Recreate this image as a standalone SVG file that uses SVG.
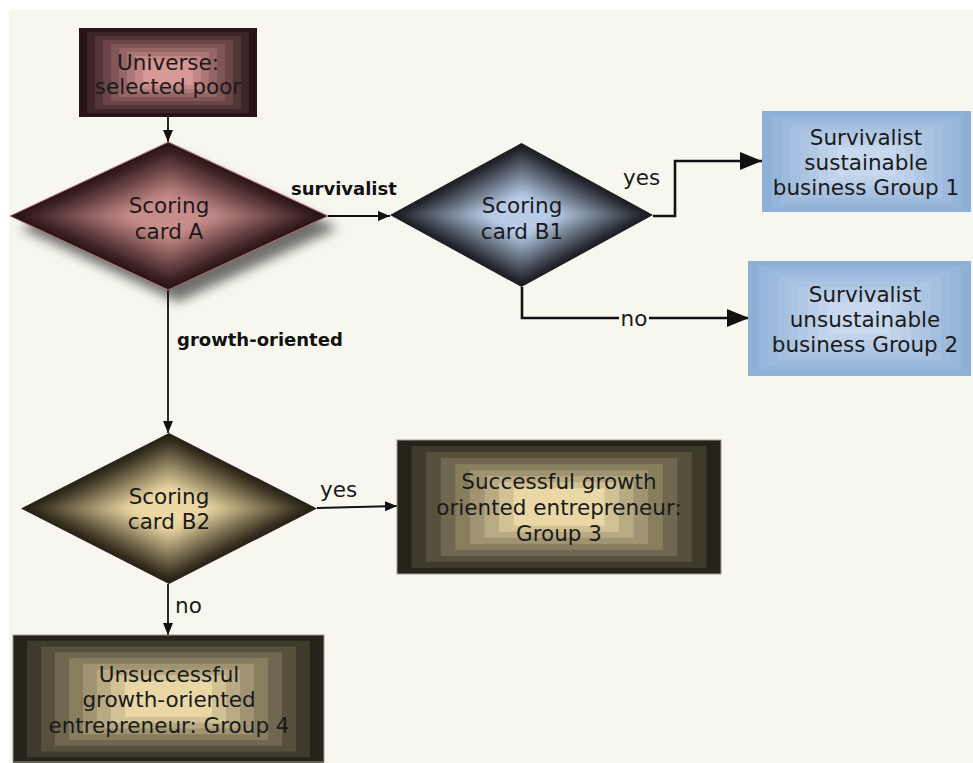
<svg xmlns="http://www.w3.org/2000/svg" width="973" height="763" viewBox="0 0 973 763">
<style>
.t{font-family:"DejaVu Sans","Verdana",sans-serif;font-size:21.5px;fill:#1a1a1a;text-anchor:middle}
.lb{font-family:"DejaVu Sans","Verdana",sans-serif;font-size:18px;font-weight:bold;fill:#111}
.lr{font-family:"DejaVu Sans","Verdana",sans-serif;font-size:21.5px;fill:#1a1a1a}
.c{fill:none;stroke:#111;stroke-width:1.8}
.cb{fill:none;stroke:#111;stroke-width:2.6}
</style>
<defs>
<marker id="as" markerUnits="userSpaceOnUse" markerWidth="13" markerHeight="11" refX="12" refY="5" orient="auto"><path d="M0,0 L12,5 L0,10 z" fill="#111"/></marker>
<marker id="al" markerUnits="userSpaceOnUse" markerWidth="23" markerHeight="19" refX="22" refY="9" orient="auto"><path d="M0,0 L22,9 L0,18 z" fill="#111"/></marker>
<filter id="sh" x="-20%" y="-20%" width="150%" height="150%"><feGaussianBlur stdDeviation="6"/></filter>
<filter id="sm" x="-10%" y="-10%" width="120%" height="120%"><feGaussianBlur stdDeviation="2"/></filter>
<clipPath id="dclip" clipPathUnits="userSpaceOnUse"><polygon points="50,0 100,50 50,100 0,50"/></clipPath>
<symbol id="dia-pink" viewBox="0 0 100 100" preserveAspectRatio="none">
<g clip-path="url(#dclip)"><g filter="url(#sm)">
<polygon points="50,-10 110,50 50,110 -10,50" fill="#2a1416"/>
<polygon points="50,4.25 95.75,50 50,95.75 4.25,50" fill="#3e2325"/>
<polygon points="50,8.5 91.5,50 50,91.5 8.5,50" fill="#523233"/>
<polygon points="50,12.75 87.25,50 50,87.25 12.75,50" fill="#654142"/>
<polygon points="50,17 83,50 50,83 17,50" fill="#795050"/>
<polygon points="50,21.25 78.75,50 50,78.75 21.25,50" fill="#8d5f5f"/>
<polygon points="50,25.5 74.5,50 50,74.5 25.5,50" fill="#a16e6d"/>
<polygon points="50,29.75 70.25,50 50,70.25 29.75,50" fill="#b47d7c"/>
<polygon points="50,34 66,50 50,66 34,50" fill="#c88c8a"/>
</g></g>
</symbol>
<symbol id="dia-blue" viewBox="0 0 100 100" preserveAspectRatio="none">
<g clip-path="url(#dclip)"><g filter="url(#sm)">
<polygon points="50,-10 110,50 50,110 -10,50" fill="#1c1f24"/>
<polygon points="50,4.25 95.75,50 50,95.75 4.25,50" fill="#30353d"/>
<polygon points="50,8.5 91.5,50 50,91.5 8.5,50" fill="#434a55"/>
<polygon points="50,12.75 87.25,50 50,87.25 12.75,50" fill="#57606e"/>
<polygon points="50,17 83,50 50,83 17,50" fill="#6a7686"/>
<polygon points="50,21.25 78.75,50 50,78.75 21.25,50" fill="#7e8b9f"/>
<polygon points="50,25.5 74.5,50 50,74.5 25.5,50" fill="#91a1b7"/>
<polygon points="50,29.75 70.25,50 50,70.25 29.75,50" fill="#a5b6d0"/>
<polygon points="50,34 66,50 50,66 34,50" fill="#b8cce8"/>
</g></g>
</symbol>
<symbol id="dia-tan" viewBox="0 0 100 100" preserveAspectRatio="none">
<g clip-path="url(#dclip)"><g filter="url(#sm)">
<polygon points="50,-10 110,50 50,110 -10,50" fill="#282214"/>
<polygon points="50,4.25 95.75,50 50,95.75 4.25,50" fill="#413926"/>
<polygon points="50,8.5 91.5,50 50,91.5 8.5,50" fill="#594f38"/>
<polygon points="50,12.75 87.25,50 50,87.25 12.75,50" fill="#72664a"/>
<polygon points="50,17 83,50 50,83 17,50" fill="#8a7d5c"/>
<polygon points="50,21.25 78.75,50 50,78.75 21.25,50" fill="#a3946e"/>
<polygon points="50,25.5 74.5,50 50,74.5 25.5,50" fill="#bbab80"/>
<polygon points="50,29.75 70.25,50 50,70.25 29.75,50" fill="#d4c192"/>
<polygon points="50,34 66,50 50,66 34,50" fill="#ecd8a4"/>
</g></g>
</symbol>
<symbol id="rect-pink" viewBox="0 0 100 100" preserveAspectRatio="none">
<rect x="0" y="0" width="100" height="100" fill="#281416"/>
<rect x="4.5" y="4.5" width="91" height="91" fill="#3e2526"/>
<rect x="9" y="9" width="82" height="82" fill="#543536"/>
<rect x="13.5" y="13.5" width="73" height="73" fill="#6a4646"/>
<rect x="18" y="18" width="64" height="64" fill="#805656"/>
<rect x="22.5" y="22.5" width="55" height="55" fill="#966666"/>
<rect x="27" y="27" width="46" height="46" fill="#ac7776"/>
<rect x="31.5" y="31.5" width="37" height="37" fill="#c28786"/>
<rect x="36" y="36" width="28" height="28" fill="#d89896"/>
</symbol>
<symbol id="rect-tan" viewBox="0 0 100 100" preserveAspectRatio="none">
<rect x="0" y="0" width="100" height="100" fill="#25231a"/>
<rect x="4.5" y="4.5" width="91" height="91" fill="#3e3a2c"/>
<rect x="9" y="9" width="82" height="82" fill="#56503d"/>
<rect x="13.5" y="13.5" width="73" height="73" fill="#6f674f"/>
<rect x="18" y="18" width="64" height="64" fill="#877e60"/>
<rect x="22.5" y="22.5" width="55" height="55" fill="#a09472"/>
<rect x="27" y="27" width="46" height="46" fill="#b8ab83"/>
<rect x="31.5" y="31.5" width="37" height="37" fill="#d1c195"/>
<rect x="36" y="36" width="28" height="28" fill="#e9d8a6"/>
</symbol>
<symbol id="rect-blue" viewBox="0 0 100 100" preserveAspectRatio="none">
<rect x="0" y="0" width="100" height="100" fill="#8eb0d6"/>
<rect x="4.5" y="4.5" width="91" height="91" fill="#95b5d9"/>
<rect x="9" y="9" width="82" height="82" fill="#9dbadc"/>
<rect x="13.5" y="13.5" width="73" height="73" fill="#a4bfdf"/>
<rect x="18" y="18" width="64" height="64" fill="#abc4e2"/>
<rect x="22.5" y="22.5" width="55" height="55" fill="#b2c9e5"/>
<rect x="27" y="27" width="46" height="46" fill="#bacee8"/>
<rect x="31.5" y="31.5" width="37" height="37" fill="#c1d3eb"/>
<rect x="36" y="36" width="28" height="28" fill="#c8d8ee"/>
</symbol>
</defs>
<rect x="0" y="0" width="973" height="763" fill="#ffffff"/>
<rect x="9" y="10" width="964" height="753" fill="#f8f7ef"/>

<g id="connectors">
<path class="c" d="M168,117 L168,142" marker-end="url(#as)"/>
<path class="c" d="M328,216 L390,216" marker-end="url(#as)"/>
<path class="c" d="M168,290 L168,433" marker-end="url(#as)"/>
<path class="cb" d="M653,216 L675,216 L675,161 L762,161" marker-end="url(#al)"/>
<path class="cb" d="M522,287 L522,318 L749,318" marker-end="url(#al)"/>
<path class="c" d="M317,508 L397,506" marker-end="url(#as)"/>
<path class="c" d="M168,584 L168,635" marker-end="url(#as)"/>
<text class="lb" x="291" y="195">survivalist</text>
<text class="lb" x="177" y="346">growth-oriented</text>
<text class="lr" x="623" y="185">yes</text>
<rect x="619" y="306" width="30" height="24" fill="#f8f7ef"/>
<text class="lr" x="634" y="326" text-anchor="middle">no</text>
<text class="lr" x="320" y="497">yes</text>
<text class="lr" x="175" y="613">no</text>
</g>

<g id="node-universe">
<use href="#rect-pink" x="79" y="28" width="178" height="89"/>
<text class="t" x="168" y="70">Universe:</text>
<text class="t" x="168" y="94">selected poor</text>
</g>

<g id="node-scoring-a">
<polygon points="178,154 338,228 178,302 20,228" fill="#000" opacity="0.55" filter="url(#sh)"/>
<use href="#dia-pink" x="10" y="142" width="318" height="148"/>
<polygon points="168,142 328,216 168,290 10,216" fill="none" stroke="#b07676" stroke-width="1"/>
<text class="t" x="169" y="213">Scoring</text>
<text class="t" x="169" y="239">card A</text>
</g>

<g id="node-scoring-b1">
<use href="#dia-blue" x="390" y="143" width="263" height="144"/>
<text class="t" x="522" y="213">Scoring</text>
<text class="t" x="522" y="239">card B1</text>
</g>

<g id="node-group1">
<use href="#rect-blue" x="762" y="111" width="209" height="101"/>
<text class="t" x="866" y="145">Survivalist</text>
<text class="t" x="866" y="170">sustainable</text>
<text class="t" x="866" y="195">business Group 1</text>
</g>

<g id="node-group2">
<use href="#rect-blue" x="748" y="261" width="223" height="115"/>
<text class="t" x="865" y="302">Survivalist</text>
<text class="t" x="865" y="327">unsustainable</text>
<text class="t" x="865" y="352">business Group 2</text>
</g>

<g id="node-scoring-b2">
<use href="#dia-tan" x="21" y="433" width="296" height="151"/>
<text class="t" x="169" y="504">Scoring</text>
<text class="t" x="169" y="529">card B2</text>
</g>

<g id="node-group3">
<use href="#rect-tan" x="397" y="440" width="324" height="134"/>
<rect x="397" y="440" width="324" height="134" fill="none" stroke="#a09a88" stroke-width="1"/>
<text class="t" x="559" y="489">Successful growth</text>
<text class="t" x="559" y="515">oriented entrepreneur:</text>
<text class="t" x="559" y="541">Group 3</text>
</g>

<g id="node-group4">
<use href="#rect-tan" x="13" y="635" width="311" height="128"/>
<rect x="13" y="635" width="311" height="127" fill="none" stroke="#a09a88" stroke-width="1"/>
<text class="t" x="169" y="682">Unsuccessful</text>
<text class="t" x="169" y="707">growth-oriented</text>
<text class="t" x="169" y="733">entrepreneur: Group 4</text>
</g>
</svg>
